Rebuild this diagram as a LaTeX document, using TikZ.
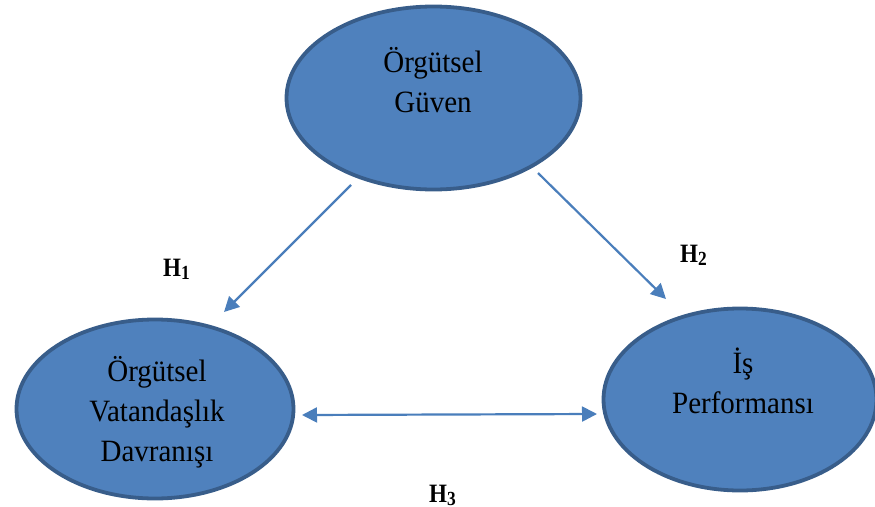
\documentclass[tikz,border=0pt]{standalone}
\usepackage{fontspec}
\setmainfont{Liberation Serif}
\newfontfamily\lblfont[FakeStretch=0.935]{Liberation Serif}
\newfontfamily\hypfont[FakeStretch=0.87]{Liberation Serif}
\usetikzlibrary{shapes.geometric,arrows.meta}
\definecolor{fillb}{HTML}{4F81BD}
\definecolor{edgeb}{HTML}{385D8A}
\definecolor{arrb}{HTML}{4A7EBB}
\newcommand{\hsub}[2]{#1\raisebox{-3pt}{\fontsize{20}{20}\selectfont #2}}
\begin{document}
\begin{tikzpicture}[x=1pt,y=-1pt,
  oval/.style={ellipse,draw=edgeb,fill=fillb,line width=3.8pt,inner sep=0pt},
  lbl/.style={align=center,font=\lblfont\fontsize{31}{40}\selectfont,inner sep=0pt},
  hyp/.style={font=\hypfont\bfseries\fontsize{26.5}{30}\selectfont,inner sep=0pt,anchor=base west},
  conn/.style={draw=arrb,line width=2.2pt,-{Triangle[length=15pt,width=15pt]}},
  conntwo/.style={draw=arrb,line width=2.2pt,{Triangle[length=15pt,width=15pt]}-{Triangle[length=15pt,width=15pt]}}]
\useasboundingbox (0,0) rectangle (875,506);
% ellipses
\node[oval,minimum width=294pt,minimum height=183pt] (top) at (433.5,98) {};
\node[oval,minimum width=277pt,minimum height=179pt] (left) at (155,409) {};
\node[oval,minimum width=273pt,minimum height=182pt] (right) at (740,399.5) {};
% texts
\node[lbl] (topT) at (433,80) {Örgütsel\\Güven};
\node[lbl] (leftT) at (157,412) {Örgütsel\\Vatandaşlık\\Davranışı};
\node[lbl] (rightT) at (743,381) {İş\\Performansı};
% connector end points
\coordinate (a1s) at (351,185);
\coordinate (a1e) at (224,312);
\coordinate (a2s) at (538,173);
\coordinate (a2e) at (666,299);
\coordinate (a3s) at (302,415);
\coordinate (a3e) at (597,414);
\draw[conn] (a1s) -- (a1e);
\draw[conn] (a2s) -- (a2e);
\draw[conntwo] (a3s) -- (a3e);
% hypothesis labels
\node[hyp] (h1) at (163,276) {\hsub{H}{1}};
\node[hyp] (h2) at (680,262) {\hsub{H}{2}};
\node[hyp] (h3) at (429,502) {\hsub{H}{3}};
\end{tikzpicture}
\end{document}
